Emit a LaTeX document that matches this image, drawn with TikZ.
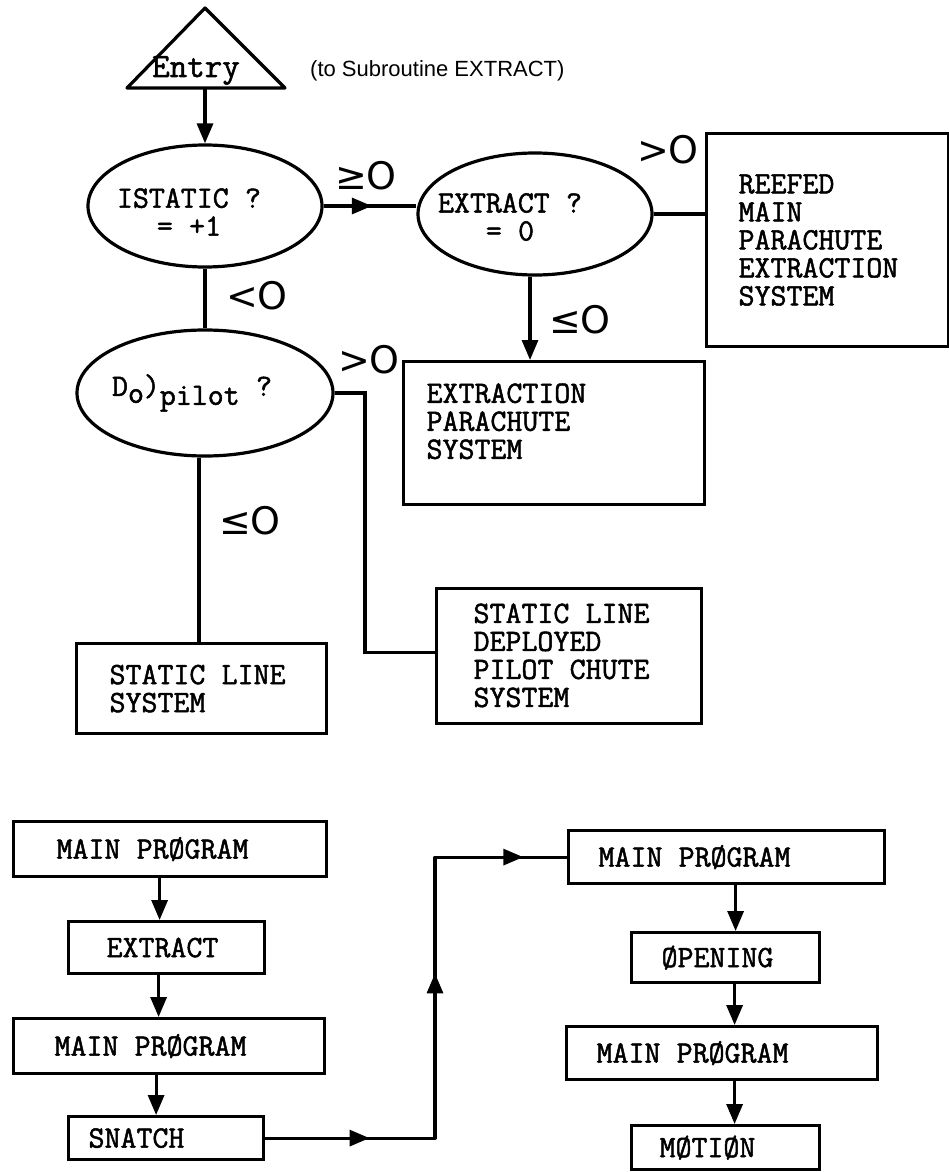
\documentclass[tikz,border=0pt]{standalone}
\usepackage{fontspec}
\newfontfamily\tw{Latin Modern Mono}[FakeBold=1.6]
\newfontfamily\lett{DejaVu Sans}
\newfontfamily\subr{Liberation Sans}
\newcommand\tsp{\hspace*{0.525em}}
\usetikzlibrary{shapes.geometric,arrows.meta,decorations.markings}
\tikzset{
  >={Triangle[length=20pt,width=16pt]},
  ln/.style={line width=3.2pt},
  arr/.style={ln,->},
  twfont/.style={font=\tw\fontsize{31}{28}\selectfont},
  boxA/.style={draw,ln,rectangle,anchor=north west,inner ysep=0pt,align=left,twfont},
  ell/.style={draw,ln,ellipse,inner sep=0pt},
  etext/.style={twfont,align=center,inner sep=0pt},
  lab/.style={font=\lett\fontsize{38}{40}\selectfont,inner sep=0pt},
  midarrows/.style={postaction={decorate},decoration={markings,#1}}
}
\begin{document}
\begin{tikzpicture}[x=1pt,y=-1pt]
\fill[white] (0,0) rectangle (949,1172);
\useasboundingbox (0,0) rectangle (949,1172);

% Entry
\draw[ln,line join=round] (127,88) -- (205,8) -- (285,88) -- cycle;
\node[font=\tw\fontsize{34}{34}\selectfont,anchor=base,inner sep=0pt] (entry) at (196,77) {Entry};
\coordinate (entrybase) at (205,88);
\node[font=\subr\fontsize{22}{24}\selectfont,anchor=base west,inner sep=0pt] (sub) at (310,77) {(to Subroutine EXTRACT)};

% decisions
\node[ell,minimum width=234pt,minimum height=122pt] (istatic) at (205,206) {};
\node[etext] (istatict) at (189,212) {ISTATIC\tsp ?\\=\tsp +1};
\node[ell,minimum width=234pt,minimum height=122pt] (extract) at (535,214) {};
\node[etext] (extractt) at (510,217) {EXTRACT\tsp ?\\=\tsp 0};
\node[ell,minimum width=256pt,minimum height=126pt] (dopilot) at (205,393) {};
\node[etext] (dopilott) at (192,393) {D\raisebox{-7pt}{o})\raisebox{-9pt}{pilot}\tsp ?};

% boxes (top)
\node[boxA,minimum width=242pt,minimum height=213pt,inner xsep=32pt,text width=178pt] (reefed) at (705,132) {REEFED\\MAIN\\PARACHUTE\\EXTRACTION\\SYSTEM};
\node[boxA,minimum width=301pt,minimum height=143pt,inner xsep=23pt,text width=255pt] (epar) at (402,360) {EXTRACTION\\PARACHUTE\\SYSTEM\\[-4pt]\mbox{}};
\node[boxA,minimum width=265pt,minimum height=135pt,inner xsep=37pt,text width=191pt] (sldp) at (435,587) {\mbox{}\\[-10pt]STATIC\tsp LINE\\DEPLOYED\\PILOT\tsp CHUTE\\SYSTEM};
\node[boxA,minimum width=250pt,minimum height=90pt,inner xsep=33pt,text width=184pt] (sls) at (75,642) {STATIC\tsp LINE\\SYSTEM};

% connectors (top)
\draw[arr] (entrybase) -- (istatic.north);
\draw[ln,midarrows={mark=at position 0.52 with {\arrow{>}}}] (istatic.east) -- (istatic.east -| extract.west);
\draw[ln] (istatic.south) -- (dopilot.north);
\draw[ln] (extract.east) -- (extract.east -| reefed.west);
\draw[arr] ([xshift=-5pt]extract.south) -- ([xshift=-5pt]extract.south |- epar.north);
\coordinate (bendx) at (365,0);
\draw[ln] (dopilot.east) -- (dopilot.east -| bendx) |- ([yshift=4pt]sldp.west);
\draw[ln] ([xshift=-6pt]dopilot.south) -- ([xshift=-6pt]dopilot.south |- sls.north);

% labels
\node[lab] (l1) at (366,176) {≥O};
\node[lab] (l2) at (257,296) {<O};
\node[lab] (l3) at (668,150) {>O};
\node[lab] (l4) at (580,320) {≤O};
\node[lab] (l5) at (369,360) {>O};
\node[lab] (l6) at (250,521) {≤O};

% bottom left column
\node[boxA,minimum width=313pt,minimum height=55pt,inner xsep=43pt,text width=227pt] (mp1) at (12,820) {MAIN\tsp PRØGRAM};
\node[boxA,minimum width=196pt,minimum height=52pt,inner xsep=38pt,text width=120pt] (ext2) at (67,920) {EXTRACT};
\node[boxA,minimum width=311pt,minimum height=55pt,inner xsep=41pt,text width=229pt] (mp2) at (12,1017) {MAIN\tsp PRØGRAM};
\node[boxA,minimum width=195pt,minimum height=43pt,inner xsep=20pt,text width=155pt] (snatch) at (67,1115) {SNATCH};

% bottom right column
\node[boxA,minimum width=316pt,minimum height=53pt,inner xsep=30pt,text width=256pt] (mp3) at (567,829) {MAIN\tsp PRØGRAM};
\node[boxA,minimum width=188pt,minimum height=50pt,inner xsep=30pt,text width=128pt] (open) at (630,931) {ØPENING};
\node[boxA,minimum width=311pt,minimum height=53pt,inner xsep=30pt,text width=251pt] (mp4) at (565,1025) {MAIN\tsp PRØGRAM};
\node[boxA,minimum width=188pt,minimum height=44pt,inner xsep=28pt,text width=132pt] (motion) at (630,1124) {MØTIØN};

% bottom connectors
\draw[arr] ([xshift=-7pt]ext2.north |- mp1.south) -- ([xshift=-7pt]ext2.north);
\draw[arr] ([xshift=-8pt]ext2.south) -- ([xshift=-8pt]ext2.south |- mp2.north);
\draw[arr] ([xshift=-10pt]snatch.north |- mp2.south) -- ([xshift=-10pt]snatch.north);
\coordinate (upx) at (435,0);
\draw[ln,line join=round,midarrows={mark=at position 0.179 with {\arrow{>}},mark=at position 0.574 with {\arrow{>}},mark=at position 0.925 with {\arrow{>}}}] (snatch.east) -- (snatch.east -| upx) |- (mp3.west);
\draw[arr] ([xshift=10pt]open.north |- mp3.south) -- ([xshift=10pt]open.north);
\draw[arr] ([xshift=9pt]open.south) -- ([xshift=9pt]open.south |- mp4.north);
\draw[arr] ([xshift=9pt]motion.north |- mp4.south) -- ([xshift=9pt]motion.north);
\end{tikzpicture}
\end{document}
